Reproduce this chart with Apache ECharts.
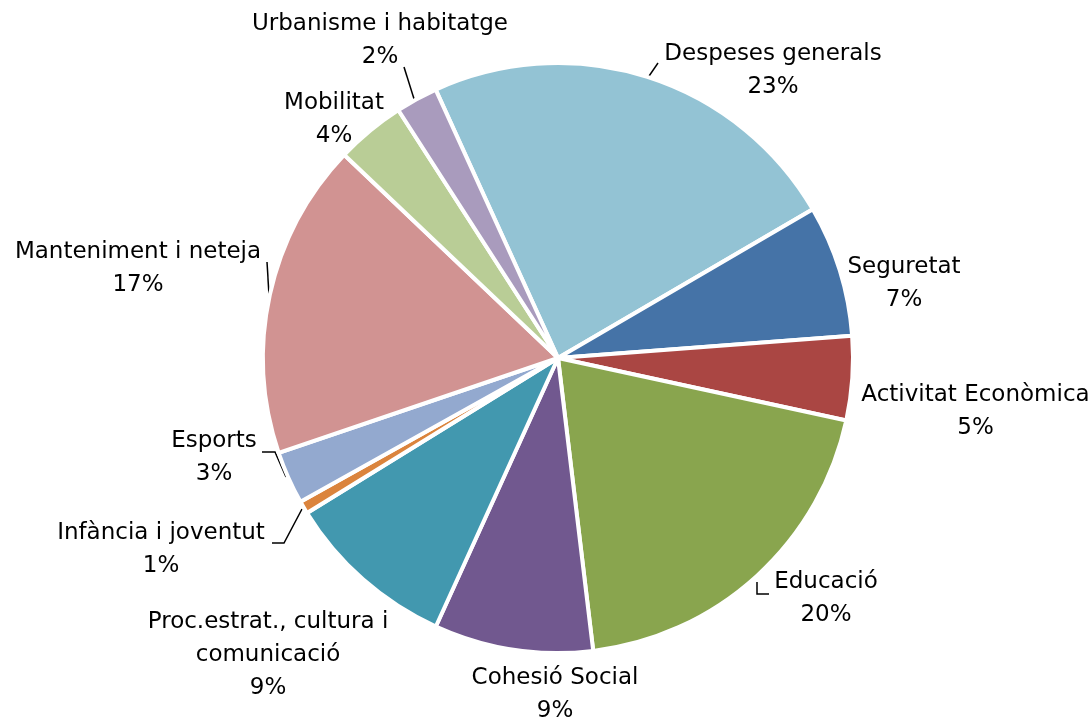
<!DOCTYPE html><html><head><meta charset="utf-8">
<script src="https://cdn.jsdelivr.net/npm/echarts@6/dist/echarts.min.js"></script>
</head><body style="margin:0;background:#fff"><div id="chart" style="width:1091px;height:722px"></div><script>
// Data (percentage shares)
const categories = ['Despeses generals','Seguretat','Activitat Econòmica','Educació','Cohesió Social','Proc.estrat., cultura i\ncomunicació','Infància i joventut','Esports','Manteniment i neteja','Mobilitat','Urbanisme i habitatge'];
const values = [23.4, 7.2, 4.6, 19.7, 8.7, 9.4, 0.7, 2.9, 17.3, 3.8, 2.3];

// Styles / layout (not data)
const colors = ['#93C3D4','#4573A7','#AA4643','#89A54E','#71588F','#4298AF','#DB843D','#93A9CF','#D19392','#B9CD96','#A99BBD'];
const labelCenters = [[773,70.5],[904,284],[975.5,412],[826,599],[555,694.5],[268,655],[161,549.5],[214,457.5],[138,268.5],[334,119.5],[380,40.5]];
const guideLines = [
  [[647,79],[658,63]],
  null,
  null,
  [[757,582],[757,594],[769,594]],
  null,
  null,
  [[302,509],[284,543],[272,543]],
  [[286,477],[275,452],[262,452]],
  [[269,295],[267,262]],
  null,
  [[415,102],[404,67]]
];

const data = categories.map((c,i)=>({
  name:c, value:values[i],
  itemStyle:{color:colors[i]},
  labelLine:{show:!!guideLines[i]}
}));

const chart = echarts.init(document.getElementById('chart'),null,{renderer:'canvas'});
chart.setOption({
  animation:false,
  backgroundColor:'#fff',
  series:[{
    type:'pie',
    center:[558,358],
    radius:295,
    startAngle:114.5,
    clockwise:true,
    avoidLabelOverlap:false,
    data:data,
    itemStyle:{borderColor:'#fff',borderWidth:4},
    emphasis:{disabled:true},
    label:{
      show:true,
      position:'outside',
      color:'#000',
      fontFamily:'DejaVu Sans',
      fontSize:23,
      lineHeight:33,
      align:'center',
      formatter:p=>p.name+'\n'+Math.round(p.percent)+'%'
    },
    labelLine:{show:true,length:5,length2:5,smooth:false,lineStyle:{color:'#000',width:1.5}},
    labelLayout:function(p){
      const i=p.dataIndex;
      const out={x:labelCenters[i][0],y:labelCenters[i][1],align:'center',verticalAlign:'middle'};
      if(guideLines[i]) out.labelLinePoints=guideLines[i];
      return out;
    }
  }]
});
</script></body></html>
